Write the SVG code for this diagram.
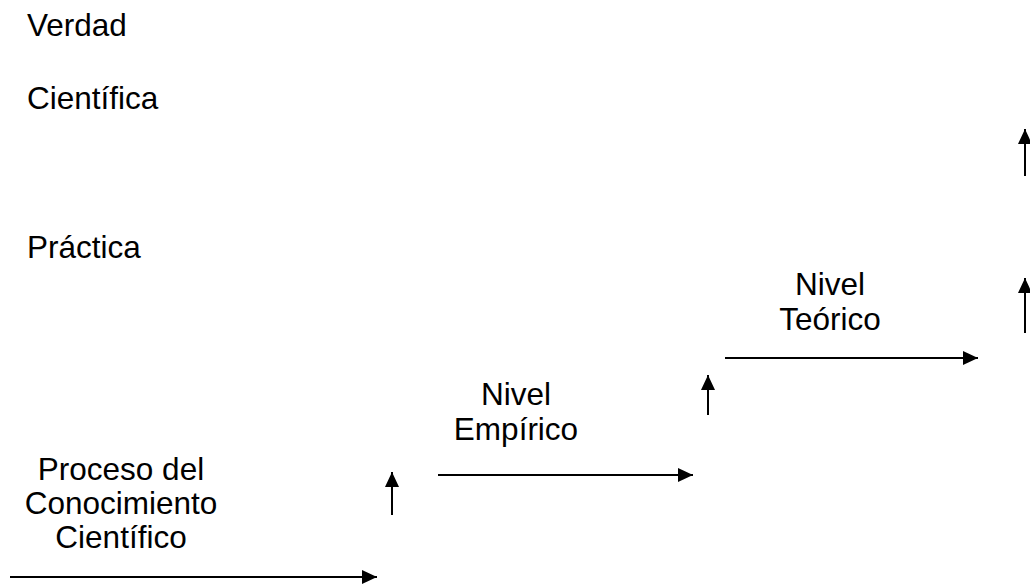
<svg xmlns="http://www.w3.org/2000/svg" width="1030" height="584" viewBox="0 0 1030 584">
  <style>
    text { font-family: "Liberation Sans", Arial, sans-serif; font-size: 31.5px; fill: #000; }
    .c { text-anchor: middle; }
    .arr { stroke: #000; stroke-width: 2; fill: none; marker-end: url(#ah); }
  </style>
  <defs>
    <marker id="ah" markerUnits="userSpaceOnUse" markerWidth="15" markerHeight="14" refX="15" refY="7" orient="auto" viewBox="0 0 15 14">
      <path d="M0,0 L15,7 L0,14 z" fill="#000"/>
    </marker>
  </defs>
  <rect width="1030" height="584" fill="#fff"/>
  <g id="verdad"><text x="27" y="36">Verdad</text></g>
  <g id="cientifica"><text x="27" y="109">Científica</text></g>
  <g id="practica"><text x="27" y="258">Práctica</text></g>
  <g id="proceso">
    <text class="c" x="121" y="480">Proceso del</text>
    <text class="c" x="121" y="514">Conocimiento</text>
    <text class="c" x="121" y="548">Científico</text>
  </g>
  <g id="empirico">
    <text class="c" x="516" y="405">Nivel</text>
    <text class="c" x="516" y="440">Empírico</text>
  </g>
  <g id="teorico">
    <text class="c" x="830" y="295">Nivel</text>
    <text class="c" x="830" y="330">Teórico</text>
  </g>
  <g id="connectors">
    <line class="arr" x1="10" y1="577" x2="377" y2="577"/>
    <line class="arr" x1="438" y1="475" x2="693" y2="475"/>
    <line class="arr" x1="725" y1="358" x2="978" y2="358"/>
    <line class="arr" x1="392" y1="515" x2="392" y2="472"/>
    <line class="arr" x1="708" y1="415" x2="708" y2="375"/>
    <line class="arr" x1="1025" y1="333" x2="1025" y2="278"/>
    <line class="arr" x1="1025" y1="176" x2="1025" y2="129"/>
  </g>
</svg>
